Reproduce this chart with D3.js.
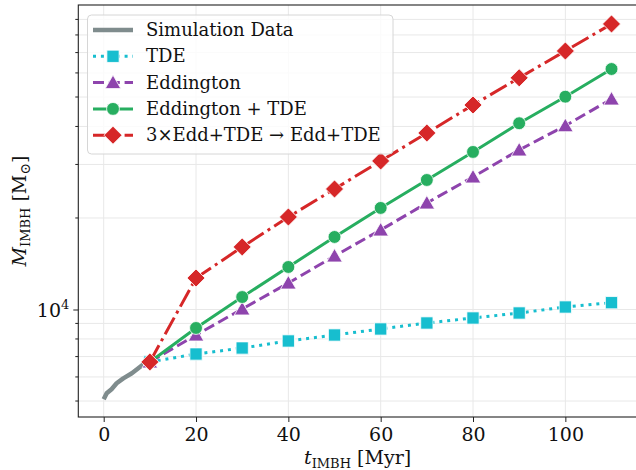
<!DOCTYPE html>
<html>
<head>
<meta charset="utf-8">
<script src="https://cdn.jsdelivr.net/npm/d3@7"></script>
<style>
  body { margin: 0; background: #fff; }
  svg { display: block; }
  svg text { font-family: "DejaVu Serif", serif; }
</style>
</head>
<body>
<div id="chart"></div>
<script>
// simulation track (t in Myr, mass in Msun)
var simT = [0, 0.65, 1.7, 2.8, 4.25, 6.1, 7.5, 8.8, 10];
var simM = [5066, 5300, 5466, 5718, 5937, 6168, 6406, 6642, 6720];

// model curves, sampled every 10 Myr
var modelT = [10, 20, 30, 40, 50, 60, 70, 80, 90, 100, 110];
var tdeM = [6720, 7138, 7470, 7879, 8243, 8628, 9029, 9376, 9739, 10190, 10530];
var eddM = [6720, 8243, 10040, 12220, 14997, 18260, 22400, 27290, 33480, 40230, 49240];
var eddTdeM = [6720, 8694, 10990, 13800, 17320, 21580, 26670, 32980, 40990, 50120, 61810];
var boostM = [6720, 12693, 16058, 20150, 24910, 30800, 38070, 47060, 57800, 70850, 86950];

var xTicks = [0, 20, 40, 60, 80, 100];
var yMinor = [5000, 6000, 7000, 8000, 9000, 20000, 30000, 40000, 50000, 60000, 70000, 80000, 90000];

var series = [
  {name: "TDE", vals: tdeM, color: "#17becf", dash: "3,4.9", marker: "square"},
  {name: "Eddington", vals: eddM, color: "#8e44ad", dash: "11,4.8", marker: "triangle"},
  {name: "Eddington + TDE", vals: eddTdeM, color: "#27ae60", dash: null, marker: "circle"},
  {name: "3\u00d7Edd+TDE \u2192 Edd+TDE", vals: boostM, color: "#d62728", dash: "19,4.8,3,4.8", marker: "diamond"}
];

var W = 636, H = 470;
var svg = d3.select("#chart").append("svg").attr("width", W).attr("height", H);

var x = d3.scaleLinear().domain([-5.5, 115.5]).range([78.3, 636.9]);
var y = d3.scaleLog().domain([Math.pow(10, 3.6464), Math.pow(10, 5.0016)]).range([417, 5]);

var pL = x.range()[0], pR = x.range()[1], pT = y.range()[1], pB = y.range()[0];

svg.append("defs").append("clipPath").attr("id", "clip")
  .append("rect").attr("x", pL).attr("y", pT).attr("width", pR - pL).attr("height", pB - pT);

// grid
var grid = svg.append("g").attr("stroke", "#e8e8e8").attr("stroke-width", 1);
xTicks.forEach(function(t) {
  grid.append("line").attr("x1", x(t)).attr("x2", x(t)).attr("y1", pT).attr("y2", pB);
});
yMinor.concat([10000]).forEach(function(v) {
  grid.append("line").attr("x1", pL).attr("x2", pR).attr("y1", y(v)).attr("y2", y(v));
});

var plot = svg.append("g").attr("clip-path", "url(#clip)");

// simulation data
plot.append("path")
  .datum(d3.zip(simT, simM))
  .attr("fill", "none")
  .attr("stroke", "#7f8c8d")
  .attr("stroke-width", 4.5)
  .attr("stroke-linejoin", "round")
  .attr("d", d3.line().x(function(d) { return x(d[0]); }).y(function(d) { return y(d[1]); }));

var symbols = {
  square: d3.symbol().type(d3.symbolSquare).size(150),
  triangle: d3.symbol().type(d3.symbolTriangle).size(105),
  circle: d3.symbol().type(d3.symbolCircle).size(130),
  diamond: function() {
    var r = 9;
    return "M0," + (-r) + "L" + r + ",0L0," + r + "L" + (-r) + ",0Z";
  }
};

function drawMarker(g, type, cx, cy, color) {
  return g.append("path")
    .attr("d", symbols[type]())
    .attr("fill", color)
    .attr("stroke", "#fff")
    .attr("stroke-width", 0.8)
    .attr("transform", "translate(" + cx + "," + cy + ")");
}

series.forEach(function(s) {
  var pts = d3.zip(modelT, s.vals);
  plot.append("path")
    .datum(pts)
    .attr("fill", "none")
    .attr("stroke", s.color)
    .attr("stroke-width", 3)
    .attr("stroke-dasharray", s.dash)
    .attr("d", d3.line().x(function(d) { return x(d[0]); }).y(function(d) { return y(d[1]); }));
  pts.forEach(function(d) {
    var off = s.marker == "triangle" ? 1.5 : 0;
    drawMarker(plot, s.marker, x(d[0]), y(d[1]) + off, s.color);
  });
});

// axes
var xAxis = svg.append("g")
  .attr("transform", "translate(0," + pB + ")")
  .call(d3.axisBottom(x).tickValues(xTicks).tickSize(5).tickPadding(6));
xAxis.selectAll("text").attr("font-size", 19).attr("fill", "#111");

var yAxis = svg.append("g")
  .attr("transform", "translate(" + pL + ",0)")
  .call(d3.axisLeft(y).tickValues([10000]).tickSize(5).tickFormat(""));
yAxis.selectAll(".tick text").remove();
yMinor.forEach(function(v) {
  yAxis.append("line").attr("x1", 0).attr("x2", -3).attr("y1", y(v)).attr("y2", y(v)).attr("stroke", "#222");
});
svg.selectAll(".domain").remove();
svg.selectAll(".tick line").attr("stroke", "#222");

var lab = svg.append("text")
  .attr("x", pL - 9).attr("y", y(10000) + 7)
  .attr("text-anchor", "end").attr("font-size", 19).attr("fill", "#111");
lab.append("tspan").text("10");
lab.append("tspan").attr("font-size", 13).attr("dy", -8).text("4");

// frame (right spine sits just past the canvas edge)
svg.append("rect")
  .attr("x", pL).attr("y", pT).attr("width", pR - pL).attr("height", pB - pT)
  .attr("fill", "none").attr("stroke", "#222").attr("stroke-width", 1.1);

// axis labels
var xl = svg.append("text")
  .attr("x", (pL + pR) / 2).attr("y", 464)
  .attr("text-anchor", "middle").attr("font-size", 19).attr("fill", "#111");
xl.append("tspan").attr("font-style", "italic").text("t");
xl.append("tspan").attr("font-size", 13).attr("dy", 4).text("IMBH");
xl.append("tspan").attr("dy", -4).text(" [Myr]");

var yl = svg.append("text")
  .attr("transform", "translate(26," + ((pT + pB) / 2) + ")rotate(-90)")
  .attr("text-anchor", "middle").attr("font-size", 19).attr("fill", "#111");
yl.append("tspan").attr("font-style", "italic").text("M");
yl.append("tspan").attr("font-size", 13).attr("dy", 4).text("IMBH");
yl.append("tspan").attr("dy", -4).text(" [M");
yl.append("tspan").attr("font-size", 14).attr("dy", 4).text("\u2299");
yl.append("tspan").attr("dy", -4).text("]");

// legend
var lg = svg.append("g");
lg.append("rect")
  .attr("x", 87.5).attr("y", 15).attr("width", 305.5).attr("height", 139)
  .attr("rx", 4).attr("fill", "#fff").attr("fill-opacity", 0.8)
  .attr("stroke", "#d6d6d6").attr("stroke-width", 1);

var rowY = [30, 56.3, 82.6, 108.9, 135.2];
var legendItems = [{name: "Simulation Data", sim: true}].concat(series);
legendItems.forEach(function(s, i) {
  var ly = rowY[i];
  if (s.sim) {
    lg.append("line").attr("x1", 93).attr("x2", 133).attr("y1", ly).attr("y2", ly)
      .attr("stroke", "#7f8c8d").attr("stroke-width", 4.5);
  } else {
    lg.append("line").attr("x1", 93).attr("x2", 133).attr("y1", ly).attr("y2", ly)
      .attr("stroke", s.color).attr("stroke-width", 3).attr("stroke-dasharray", s.dash);
    drawMarker(lg, s.marker, 113, ly + (s.marker == "triangle" ? 1.5 : 0), s.color);
  }
  lg.append("text").attr("x", 146).attr("y", ly + 6)
    .attr("font-size", 18).attr("fill", "#111").text(s.name);
});
</script>
</body>
</html>
